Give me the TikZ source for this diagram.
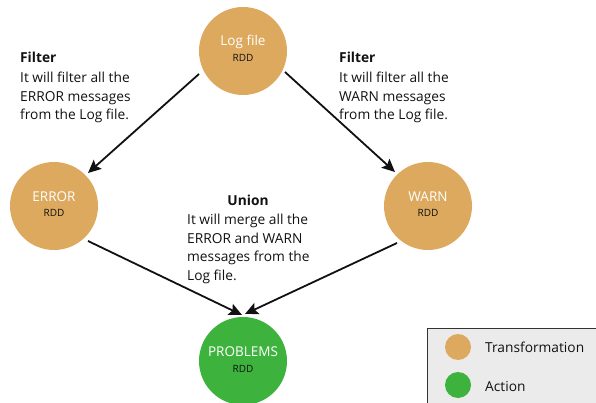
\documentclass[tikz,border=0pt]{standalone}
\usepackage{fontspec}
\setmainfont{Open Sans}
\usetikzlibrary{arrows.meta}
\definecolor{transf}{HTML}{DDA95F}
\definecolor{actgreen}{HTML}{3DB33D}
\definecolor{legendbg}{HTML}{EBEBEB}
\definecolor{ink}{HTML}{111111}
\tikzset{
  rdd/.style={circle, minimum size=88pt, inner sep=0pt, outer sep=0pt, draw=none},
  transf rdd/.style={rdd, fill=transf},
  action rdd/.style={rdd, fill=actgreen},
  rddname/.style={anchor=base, inner sep=0pt, text=white, font=\fontsize{13.5}{15}\selectfont},
  rddtag/.style={anchor=base, inner sep=0pt, text=ink, font=\fontsize{10}{12}\selectfont},
  flow/.style={line width=1.8pt, draw=ink, -{Stealth[length=13pt,width=12pt,inset=2.5pt]}},
  note/.style={align=left, inner sep=0pt, anchor=north west, text=ink,
    font=\fontsize{13.75}{18.8}\selectfont},
  notetitle/.style={inner sep=0pt, anchor=base, text=ink,
    font=\fontsize{13.75}{18.8}\selectfont\bfseries},
  legendbox/.style={draw=black!80, line width=0.8pt, fill=legendbg},
  legenddot/.style={circle, minimum size=26pt, inner sep=0pt, draw=none},
  legendtext/.style={anchor=base west, inner sep=0pt, text=ink, font=\fontsize{13.75}{15}\selectfont},
}
\begin{document}
\begin{tikzpicture}[x=1pt, y=-1pt]
\useasboundingbox (0,0) rectangle (596,403);

% RDD circles
\node[transf rdd]  (log)  at (243,51)  {};
\node[transf rdd]  (err)  at (54,206)  {};
\node[transf rdd]  (warn) at (428,206) {};
\node[action rdd]  (prob) at (243,361) {};

\node[rddname] (logname)  at ([shift={(0,-5)}]log.center)  {Log file};
\node[rddtag]  (logtag)   at ([shift={(0,11)}]log.center)  {RDD};
\node[rddname] (errname)  at ([shift={(0,-5)}]err.center)  {ERROR};
\node[rddtag]  (errtag)   at ([shift={(0,11)}]err.center)  {RDD};
\node[rddname] (warnname) at ([shift={(0,-5)}]warn.center) {WARN};
\node[rddtag]  (warntag)  at ([shift={(0,11)}]warn.center) {RDD};
\node[rddname] (probname) at ([shift={(0,-5)}]prob.center) {PROBLEMS};
\node[rddtag]  (probtag)  at ([shift={(0,11)}]prob.center) {RDD};

% data flow
\draw[flow] ([shift={(-44,23)}]log.center) -- ([shift={(34,-33)}]err.center);
\draw[flow] ([shift={(42,21)}]log.center)  -- ([shift={(-33,-34)}]warn.center);
\draw[flow] ([shift={(34,35)}]err.center)  -- ([shift={(-1,-46)}]prob.center);
\draw[flow] ([shift={(-31,37)}]warn.center) -- ([shift={(2,-47)}]prob.center);

% operation notes
\node[notetitle, anchor=base west] (filt1title) at (20,63) {Filter};
\node[note] (filt1) at (20,71.6) {It will filter all the\\ERROR messages\\from the Log file.};
\node[notetitle, anchor=base west] (filt2title) at (339,63) {Filter};
\node[note] (filt2) at (339,71.6) {It will filter all the\\WARN messages\\from the Log file.};
\node[notetitle] (uniontitle) at (248,205) {Union};
\node[note] (union) at (187,213.6) {It will merge all the\\ERROR and WARN\\messages from the\\Log file.};

% legend
\draw[legendbox] (427.5,328.5) rectangle (610,420);
\node[legenddot, fill=transf]   (legt) at (458,347) {};
\node[legenddot, fill=actgreen] (lega) at (458,385) {};
\node[legendtext] (legttext) at (485,352) {Transformation};
\node[legendtext] (legatext) at (485,391) {Action};
\end{tikzpicture}
\end{document}
